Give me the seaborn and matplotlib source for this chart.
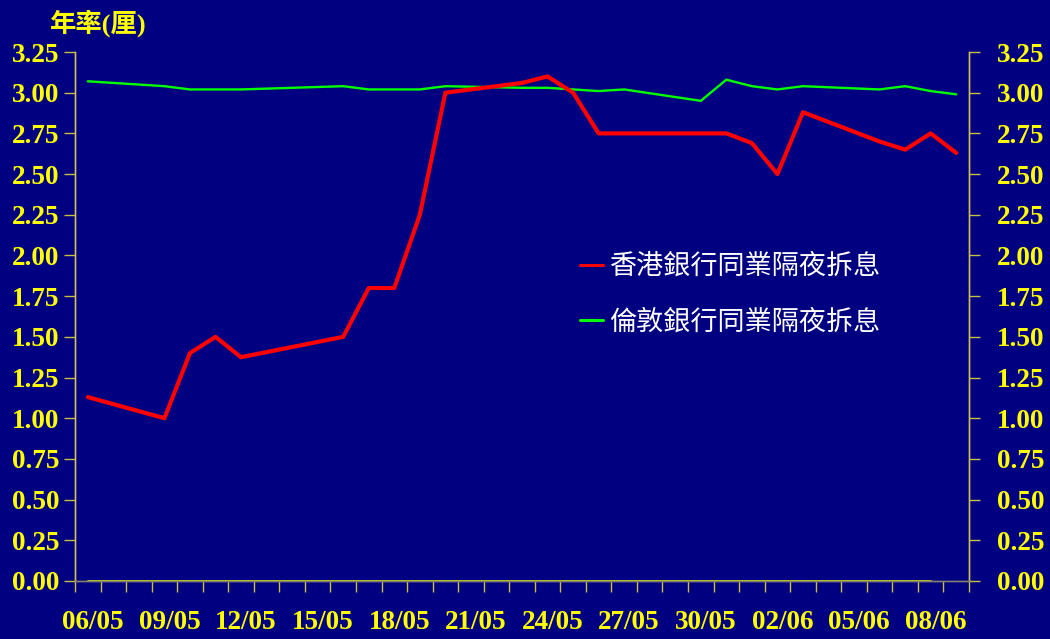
import matplotlib
matplotlib.use("Agg")
import matplotlib.pyplot as plt
import matplotlib.transforms as mtransforms
from matplotlib.font_manager import FontProperties
import seaborn as sns
import pandas as pd

# ---------------- data ----------------
categories = ['06/05', '07/05', '08/05', '09/05', '10/05', '11/05', '12/05', '13/05',
              '14/05', '15/05', '16/05', '17/05', '18/05', '19/05', '20/05', '21/05',
              '22/05', '23/05', '24/05', '25/05', '26/05', '27/05', '28/05', '29/05',
              '30/05', '31/05', '01/06', '02/06', '03/06', '04/06', '05/06', '06/06',
              '07/06', '08/06', '09/06']
tick_labels = ['06/05', '09/05', '12/05', '15/05', '18/05', '21/05', '24/05',
               '27/05', '30/05', '02/06', '05/06', '08/06']

obs_days = ['06/05', '09/05', '10/05', '11/05', '12/05', '16/05', '17/05', '18/05',
            '19/05', '20/05', '23/05', '24/05', '25/05', '26/05', '27/05', '30/05',
            '31/05', '01/06', '02/06', '03/06', '06/06', '07/06', '08/06', '09/06']
hk_hibor = [1.13, 1.00, 1.40, 1.50, 1.375, 1.50, 1.80, 1.80,
            2.25, 3.00, 3.06, 3.10, 3.00, 2.75, 2.75, 2.75,
            2.75, 2.69, 2.50, 2.88, 2.70, 2.65, 2.75, 2.63]
london_libor = [3.07, 3.04, 3.02, 3.02, 3.02, 3.04, 3.02, 3.02,
                3.02, 3.04, 3.03, 3.03, 3.02, 3.01, 3.02, 2.95,
                3.08, 3.04, 3.02, 3.04, 3.02, 3.04, 3.01, 2.99]
baseline_days = obs_days[:-1]
baseline = [0.00, 0.00, 0.00, 0.00, 0.00, 0.00, 0.00, 0.00,
            0.00, 0.00, 0.00, 0.00, 0.00, 0.00, 0.00, 0.00,
            0.00, 0.00, 0.00, 0.00, 0.00, 0.00, 0.00]

series_hk = '香港銀行同業隔夜拆息'
series_ld = '倫敦銀行同業隔夜拆息'
y_title = '年率(厘)'

pos = {c: i for i, c in enumerate(categories)}
df_hk = pd.DataFrame({'x': [pos[d] for d in obs_days], 'y': hk_hibor})
df_ld = pd.DataFrame({'x': [pos[d] for d in obs_days], 'y': london_libor})
df_base = pd.DataFrame({'x': [pos[d] for d in baseline_days], 'y': baseline})

# ---------------- style ----------------
sns.set_style("white")
plt.rcParams['font.family'] = ['Liberation Serif', 'Noto Sans CJK TC', 'DejaVu Sans']
navy = '#000080'
yellow = '#FFFF00'
tickc = '#C8C040'
fs = 19.5

fig = plt.figure(figsize=(10.5, 6.39), dpi=100, facecolor=navy)
ax = fig.add_axes([75 / 1050, 1 - 581 / 639, (969 - 75) / 1050, (581 - 52) / 639])
ax.set_facecolor(navy)

sns.lineplot(data=df_base, x='x', y='y', ax=ax, color=yellow, linewidth=1.2,
             legend=False, zorder=2)
sns.lineplot(data=df_hk, x='x', y='y', ax=ax, color='#FF0000', linewidth=3.0,
             label=series_hk, zorder=4)
sns.lineplot(data=df_ld, x='x', y='y', ax=ax, color='#00FF00', linewidth=1.7,
             label=series_ld, zorder=3)

n = len(categories)
ax.set_xlim(-0.5, n - 0.5)
ax.set_ylim(0, 3.25)
ax.set_xlabel('')
ax.set_ylabel('')

# x ticks: marks at category boundaries, labels every third day
ax.set_xticks([i - 0.5 for i in range(n + 1)])
ax.set_xticklabels([])
ax.set_xticks([pos[t] for t in tick_labels], minor=True)
ax.set_xticklabels(tick_labels, minor=True)
ax.tick_params(axis='x', which='major', direction='out', length=8, width=1,
               color=tickc, bottom=True)
ax.tick_params(axis='x', which='minor', length=0, pad=21, labelsize=fs,
               labelcolor=yellow)
offset = mtransforms.ScaledTranslation(5 / 100, 0, fig.dpi_scale_trans)
for lab in ax.get_xticklabels(minor=True):
    lab.set_fontweight('bold')
    lab.set_fontfamily('Liberation Serif')
    lab.set_transform(lab.get_transform() + offset)

yticks = [i * 0.25 for i in range(14)]
ax.set_yticks(yticks)
ax.set_yticklabels([f'{v:.2f}' for v in yticks])
ax.tick_params(axis='y', which='major', direction='out', length=8, width=1,
               color=tickc, left=True, pad=3, labelsize=fs, labelcolor=yellow)
for lab in ax.get_yticklabels():
    lab.set_fontweight('bold')
    lab.set_fontfamily('Liberation Serif')

ax2 = ax.twinx()
ax2.set_ylim(0, 3.25)
ax2.set_yticks(yticks)
ax2.set_yticklabels([f'{v:.2f}' for v in yticks])
ax2.tick_params(axis='y', direction='out', length=8, width=1, color=tickc,
                right=True, pad=12, labelsize=fs, labelcolor=yellow)
for lab in ax2.get_yticklabels():
    lab.set_fontweight('bold')
    lab.set_fontfamily('Liberation Serif')

for a in (ax, ax2):
    a.spines['top'].set_visible(False)
    a.spines['left'].set_color('#D0C050')
    a.spines['right'].set_color('#D0C050')
    a.spines['bottom'].set_color('#808070')
    for s in ('left', 'right', 'bottom'):
        a.spines[s].set_linewidth(1)
ax.grid(False)
ax2.grid(False)

leg = ax.legend(loc='upper left', bbox_to_anchor=((580 - 75) / 894, (581 - 253) / 529),
                frameon=False, prop=FontProperties(family='Noto Sans CJK TC', size=fs),
                labelcolor='white', handlelength=0.85, handletextpad=0.22,
                labelspacing=1.05, borderaxespad=0, borderpad=0)
for h in leg.get_lines():
    h.set_linewidth(2.2)

fig.text(50 / 1050, 1 - 23 / 639, y_title, color=yellow, fontsize=19,
         fontweight='bold', ha='left', va='center',
         family=['Liberation Serif', 'Noto Sans CJK TC'])

fig.savefig('out.png', dpi=100, facecolor=navy)
